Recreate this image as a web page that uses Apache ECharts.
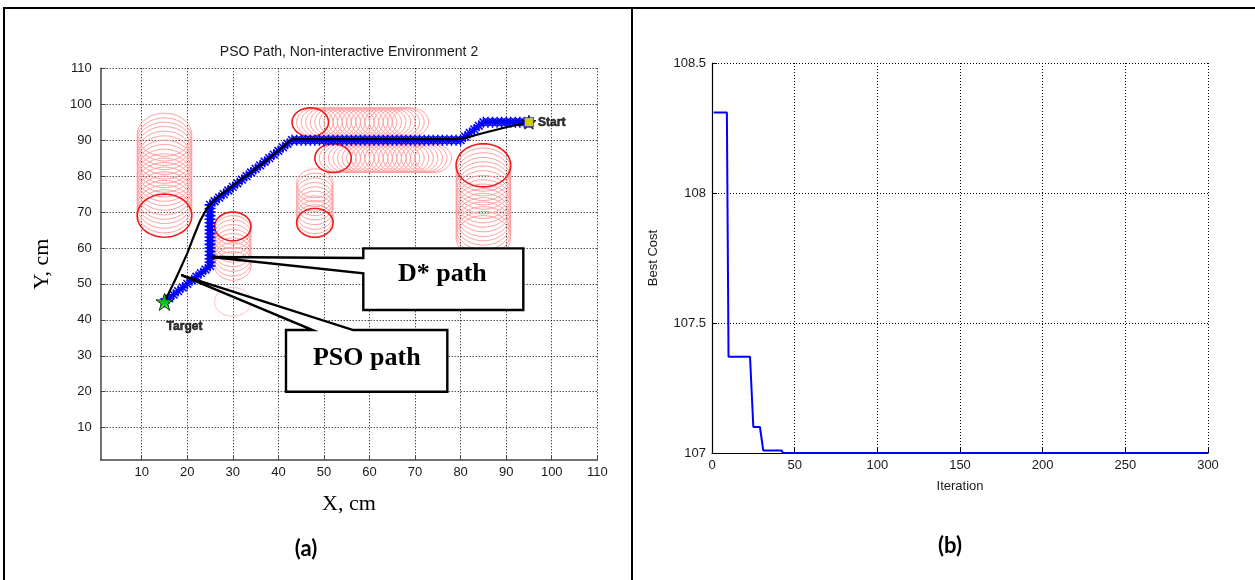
<!DOCTYPE html>
<html><head><meta charset="utf-8">
<script src="https://cdn.jsdelivr.net/npm/echarts@6/dist/echarts.min.js"></script>
<style>html,body{margin:0;padding:0;background:#fff}#c{width:1255px;height:580px}</style>
</head><body><div id="c"></div>
<script>
// ================= Panel (a) data =================
const panelATitle = 'PSO Path, Non-interactive Environment 2';
const gridTicksA = [10, 20, 30, 40, 50, 60, 70, 80, 90, 100, 110];

// obstacles: final positions (bold red circles)
const obstacleX = [15, 30, 48, 47, 52, 85];
const obstacleY = [69, 66, 67, 95, 85, 83];
const obstacleR = [6, 4, 4, 4, 4, 6];

// obstacle trails (faded circles)
const trail1Y = [91.5, 90.2, 89, 87.8, 86.5, 85.2, 84, 82.8, 81.5, 80.2, 79, 77.8, 76.5, 75.2, 74, 72.8, 71.5, 70.2]; // x=15, r=6
const trail2Y = [55, 56.2, 57.5, 58.8, 60, 61.2, 62.5, 63.8, 65];                               // x=30, r=4
const trail3Y = [78, 76.8, 75.5, 74.2, 73, 71.8, 70.5, 69.2, 68];                               // x=48, r=4
const trail4X = [69, 68, 67, 66, 65, 64, 63, 62, 61, 60, 59, 58, 57, 56, 55, 54, 53, 52, 51, 50, 49, 48]; // y=95, r=4
const trail5X = [74, 73, 72, 71, 70, 69, 68, 67, 66, 65, 64, 63, 62, 61, 60, 59, 58, 57, 56, 55, 54, 53]; // y=85, r=4
const trail6Y = [63, 64.2, 65.5, 66.8, 68, 69.2, 70.5, 71.8, 73, 74.2, 75.5, 76.8, 78, 79.2, 80.5, 81.8]; // x=85, r=6
const ghostCircle = [30, 45, 4];

// D* path (grid cells, blue with '*')
const dstarPath = [
  [95,95],[94,95],[93,95],[92,95],[91,95],[90,95],[89,95],[88,95],[87,95],[86,95],[85,95],
  [84,94],[83,93],[82,92],[81,91],[80,90],
  [79,90],[78,90],[77,90],[76,90],[75,90],[74,90],[73,90],[72,90],[71,90],[70,90],[69,90],[68,90],[67,90],[66,90],[65,90],[64,90],[63,90],[62,90],[61,90],[60,90],[59,90],[58,90],[57,90],[56,90],[55,90],[54,90],[53,90],[52,90],[51,90],[50,90],[49,90],[48,90],[47,90],[46,90],[45,90],[44,90],[43,90],
  [42,89],[41,88],[40,87],[39,86],[38,85],[37,84],[36,83],[35,82],[34,81],[33,80],[32,79],[31,78],[30,77],[29,76],[28,75],[27,74],[26,73],[25,72],
  [25,71],[25,70],[25,69],[25,68],[25,67],[25,66],[25,65],[25,64],[25,63],[25,62],[25,61],[25,60],[25,59],[25,58],[25,57],[25,56],[25,55],
  [24,54],[23,53],[22,52],[21,51],[20,50],[19,49],[18,48],[17,47],[16,46],[15,45]
];
// PSO path (black)
const psoX = [95, 90, 85, 81, 78.5, 75, 43, 36, 31, 26, 24.3, 22.8, 21.2, 20, 17.5, 15];
const psoY = [95, 93.6, 92, 90.6, 90.3, 90.3, 90.3, 83, 78.3, 73.5, 71, 67.5, 62.5, 58.5, 51.5, 45];

const startPoint = [95, 95];
const targetPoint = [15, 45];
const pointLabels = ['Start', 'Target'];

// callouts (annotation boxes, data coordinates)
const calloutLabels = ['D* path', 'PSO path'];
const calloutTextX = [76.0, 59.4];
const calloutTextY = [52.6, 29.4];
const dstarBoxX = [58.64, 93.76, 93.76, 58.64, 58.64, 25.21, 58.64];
const dstarBoxY = [59.9, 59.9, 42.74, 42.74, 52.95, 57.48, 57.2];
const psoBoxX = [41.67, 47.53, 18.69, 56.44, 77.08, 77.08, 41.67];
const psoBoxY = [37.17, 37.17, 52.47, 37.17, 37.17, 20.0, 20.0];

// ================= Panel (b) data =================
const iteration = [1, 9, 10, 23, 25, 29, 31, 42, 43, 300];
const bestCost = [108.31, 108.31, 107.37, 107.37, 107.10, 107.10, 107.01, 107.01, 107.0, 107.0];

// ================= build =================
const boldCircles = obstacleX.map((x, i) => [x, obstacleY[i], obstacleR[i]]);
const trailCircles = []
  .concat(trail1Y.map(y => [15, y, 6]))
  .concat(trail2Y.map(y => [30, y, 4]))
  .concat(trail3Y.map(y => [48, y, 4]))
  .concat(trail4X.map(x => [x, 95, 4]))
  .concat(trail5X.map(x => [x, 85, 4]))
  .concat(trail6Y.map(y => [85, y, 6]));
const callouts = [
  { xs: dstarBoxX, ys: dstarBoxY },
  { xs: psoBoxX, ys: psoBoxY }
];

function circleRenderer(stroke, width) {
  return function (params, api) {
    const cx = api.value(0), cy = api.value(1), r = api.value(2);
    const pts = [];
    for (let k = 0; k < 56; k++) {
      const a = k / 56 * Math.PI * 2;
      pts.push(api.coord([cx + r * Math.cos(a), cy + r * Math.sin(a)]));
    }
    return { type: 'polygon', shape: { points: pts }, style: { fill: 'none', stroke: stroke, lineWidth: width } };
  };
}

const ASTERISK = 'path://M-0.7,-5L0.7,-5L0.7,5L-0.7,5Z M-5,-0.7L5,-0.7L5,0.7L-5,0.7Z M-4.0,-3.0L-3.0,-4.0L4.0,3.0L3.0,4.0Z M3.0,-4.0L4.0,-3.0L-3.0,4.0L-4.0,3.0Z';
const STAR = 'path://M0,-10L2.245,-3.09L9.511,-3.09L3.633,1.18L5.878,8.09L0,3.82L-5.878,8.09L-3.633,1.18L-9.511,-3.09L-2.245,-3.09Z';

const tickFont = { fontFamily: 'Liberation Sans, Arial', fontSize: 13, color: '#1a1a1a' };
const dotted = { color: '#000', width: 1, type: [1, 2] };

const chart = echarts.init(document.getElementById('c'), null, { renderer: 'canvas' });
chart.setOption({
  backgroundColor: '#fff',
  animation: false,
  grid: [
    { left: 100.7, top: 68.3, width: 496.6, height: 391.7, containLabel: false, outerBoundsMode: 'none' },
    { left: 712, top: 63, width: 496, height: 390, containLabel: false, outerBoundsMode: 'none' }
  ],
  xAxis: [
    {
      gridIndex: 0, type: 'value', min: 1, max: 110,
      name: 'X, cm', nameLocation: 'middle', nameGap: 33,
      nameTextStyle: { fontFamily: 'Liberation Serif', fontSize: 22, color: '#000' },
      axisLine: { show: true, onZero: false, lineStyle: { color: '#444', width: 1.5 } },
      axisTick: { show: true, inside: true, length: 5, customValues: gridTicksA, lineStyle: { color: '#444' } },
      axisLabel: Object.assign({ customValues: gridTicksA, margin: 6 }, tickFont),
      splitLine: { show: true, lineStyle: dotted }
    },
    {
      gridIndex: 1, type: 'value', min: 0, max: 300, interval: 50,
      name: 'Iteration', nameLocation: 'middle', nameGap: 27,
      nameTextStyle: { fontFamily: 'Liberation Sans, Arial', fontSize: 13, color: '#1a1a1a' },
      axisLine: { show: true, onZero: false, lineStyle: { color: '#000', width: 1.2 } },
      axisTick: { show: true, inside: true, length: 5, lineStyle: { color: '#000' } },
      axisLabel: Object.assign({ margin: 6 }, tickFont),
      splitLine: { show: true, lineStyle: dotted }
    }
  ],
  yAxis: [
    {
      gridIndex: 0, type: 'value', min: 1, max: 110,
      name: 'Y, cm', nameLocation: 'middle', nameGap: 47,
      nameTextStyle: { fontFamily: 'Liberation Serif', fontSize: 22, color: '#000' },
      axisLine: { show: true, onZero: false, lineStyle: { color: '#444', width: 1.5 } },
      axisTick: { show: true, inside: true, length: 5, customValues: gridTicksA, lineStyle: { color: '#444' } },
      axisLabel: Object.assign({ customValues: gridTicksA, margin: 9 }, tickFont),
      splitLine: { show: true, lineStyle: dotted }
    },
    {
      gridIndex: 1, type: 'value', min: 107, max: 108.5, interval: 0.5,
      name: 'Best Cost', nameLocation: 'middle', nameGap: 52,
      nameTextStyle: { fontFamily: 'Liberation Sans, Arial', fontSize: 13, color: '#1a1a1a' },
      axisLine: { show: true, onZero: false, lineStyle: { color: '#000', width: 1.2 } },
      axisTick: { show: true, inside: true, length: 5, lineStyle: { color: '#000' } },
      axisLabel: Object.assign({ margin: 6 }, tickFont),
      splitLine: { show: true, lineStyle: dotted }
    }
  ],
  series: [
    {
      type: 'custom', name: 'trails', xAxisIndex: 0, yAxisIndex: 0, z: 2, silent: true,
      dimensions: ['x', 'y', 'r'], encode: { x: 0, y: 1 },
      data: trailCircles, renderItem: circleRenderer('#ff9e9e', 1)
    },
    {
      type: 'custom', name: 'ghost', xAxisIndex: 0, yAxisIndex: 0, z: 2, silent: true,
      dimensions: ['x', 'y', 'r'], encode: { x: 0, y: 1 },
      data: [ghostCircle], renderItem: circleRenderer('#ffc0c0', 1)
    },
    {
      type: 'custom', name: 'obstacles', xAxisIndex: 0, yAxisIndex: 0, z: 3, silent: true,
      dimensions: ['x', 'y', 'r'], encode: { x: 0, y: 1 },
      data: boldCircles, renderItem: circleRenderer('#ee1c1c', 1.6)
    },
    {
      type: 'line', name: 'D* path', xAxisIndex: 0, yAxisIndex: 0, z: 4, silent: true,
      data: dstarPath, symbol: ASTERISK, symbolSize: 11, showAllSymbol: true,
      lineStyle: { color: '#0000ff', width: 3 }, itemStyle: { color: '#0000ff' }
    },
    {
      type: 'line', name: 'PSO path', xAxisIndex: 0, yAxisIndex: 0, z: 5, silent: true,
      data: psoX.map((x, i) => [x, psoY[i]]), symbol: 'none',
      lineStyle: { color: '#000', width: 2.2, join: 'round' }
    },
    {
      type: 'scatter', name: 'start-star', xAxisIndex: 0, yAxisIndex: 0, z: 6, silent: true,
      data: [startPoint], symbol: STAR, symbolSize: 14,
      itemStyle: { color: '#000', borderColor: '#000', borderWidth: 1 }
    },
    {
      type: 'scatter', name: 'start', xAxisIndex: 0, yAxisIndex: 0, z: 7, silent: true,
      data: [startPoint], symbol: 'rect', symbolSize: 9,
      itemStyle: { color: '#ffff00', borderColor: '#3a3ad0', borderWidth: 1.2 },
      label: { show: true, formatter: pointLabels[0], position: 'right', distance: 4,
        fontFamily: 'Liberation Sans, Arial', fontWeight: 'bold', fontSize: 12, color: '#000',
        textBorderColor: '#000', textBorderWidth: 0.6 }
    },
    {
      type: 'scatter', name: 'target', xAxisIndex: 0, yAxisIndex: 0, z: 7, silent: true,
      data: [targetPoint], symbol: STAR, symbolSize: 17,
      itemStyle: { color: '#00ee00', borderColor: '#000', borderWidth: 1 },
      label: { show: true, formatter: pointLabels[1], position: 'bottom', distance: 10, offset: [20, 0],
        fontFamily: 'Liberation Sans, Arial', fontWeight: 'bold', fontSize: 12, color: '#000',
        textBorderColor: '#000', textBorderWidth: 0.6 }
    },
    {
      type: 'custom', name: 'callouts', xAxisIndex: 0, yAxisIndex: 0, z: 9, silent: true,
      dimensions: ['x', 'y'], encode: { x: 0, y: 1 },
      data: calloutTextX.map((x, i) => [x, calloutTextY[i]]),
      renderItem: function (params, api) {
        const c = callouts[params.dataIndex];
        const pts = c.xs.map((x, i) => api.coord([x, c.ys[i]]));
        const ctr = api.coord([api.value(0), api.value(1)]);
        return { type: 'group', children: [
          { type: 'polygon', shape: { points: pts }, style: { fill: '#fff', stroke: '#000', lineWidth: 2.4, lineJoin: 'miter' } },
          { type: 'text', x: ctr[0], y: ctr[1], style: { text: calloutLabels[params.dataIndex],
            font: 'bold 26px "Liberation Serif", "Times New Roman", serif', fill: '#000', align: 'center', verticalAlign: 'middle' } }
        ] };
      }
    },
    {
      type: 'line', name: 'Best Cost', xAxisIndex: 1, yAxisIndex: 1, z: 4, silent: true,
      data: iteration.map((x, i) => [x, bestCost[i]]), symbol: 'none',
      lineStyle: { color: '#0000ff', width: 2 }
    }
  ],
  graphic: [
    { type: 'line', shape: { x1: 3, y1: 8, x2: 1255, y2: 8 }, style: { stroke: '#000', lineWidth: 2 }, z: 100 },
    { type: 'line', shape: { x1: 4, y1: 7, x2: 4, y2: 580 }, style: { stroke: '#000', lineWidth: 2 }, z: 100 },
    { type: 'line', shape: { x1: 632, y1: 7, x2: 632, y2: 580 }, style: { stroke: '#000', lineWidth: 2 }, z: 100 },
    { type: 'text', x: 349, y: 52, z: 100, style: { text: panelATitle, font: '14px "Liberation Sans", Arial', fill: '#1a1a1a', align: 'center', verticalAlign: 'middle' } },
    { type: 'text', x: 306, y: 549, z: 100, style: { text: '(a)', font: 'bold 22px Lato, "Open Sans", sans-serif', fill: '#000', align: 'center', verticalAlign: 'middle' } },
    { type: 'text', x: 950, y: 546, z: 100, style: { text: '(b)', font: 'bold 22px Lato, "Open Sans", sans-serif', fill: '#000', align: 'center', verticalAlign: 'middle' } }
  ]
});
</script>
</body></html>
